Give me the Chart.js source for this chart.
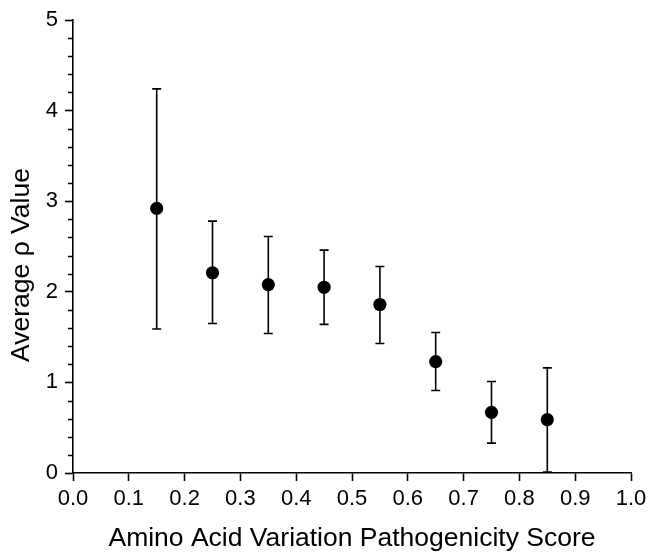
<!DOCTYPE html>
<html>
<head>
<meta charset="utf-8">
<script src="https://cdn.jsdelivr.net/npm/chart.js@4/dist/chart.umd.min.js"></script>
<style>
  html, body { margin: 0; padding: 0; background: #ffffff; }
  #wrap { width: 648px; height: 552px; position: relative; }
</style>
</head>
<body>
<div id="wrap"><canvas id="c" width="648" height="552"></canvas></div>
<script>
// ---- data ----
const scoreBins   = [0.15, 0.25, 0.35, 0.45, 0.55, 0.65, 0.75, 0.85];
const meanRho     = [2.92, 2.21, 2.08, 2.05, 1.86, 1.23, 0.67, 0.59];
const upperRho    = [4.24, 2.78, 2.61, 2.46, 2.28, 1.55, 1.01, 1.16];
const lowerRho    = [1.59, 1.65, 1.54, 1.64, 1.43, 0.91, 0.33, 0.01];
const xTickValues = [0.0, 0.1, 0.2, 0.3, 0.4, 0.5, 0.6, 0.7, 0.8, 0.9, 1.0];
const xTickLabels = ['0.0', '0.1', '0.2', '0.3', '0.4', '0.5', '0.6', '0.7', '0.8', '0.9', '1.0'];
const yTickValues = [0, 1, 2, 3, 4, 5];
const yMinorTickValues = [0.2, 0.4, 0.6, 0.8, 1.2, 1.4, 1.6, 1.8, 2.2, 2.4, 2.6, 2.8,
                          3.2, 3.4, 3.6, 3.8, 4.2, 4.4, 4.6, 4.8];
const xTitle = 'Amino Acid Variation Pathogenicity Score';
const yTitle = 'Average \u03C1 Value';

const FONT = '"Liberation Sans", Arial, Helvetica, sans-serif';
const INK = '#000000';

const points = scoreBins.map((x, i) => ({ x: x, y: meanRho[i] }));

const errorBarPlugin = {
  id: 'errorBars',
  beforeDatasetsDraw(chart) {
    const ctx = chart.ctx;
    const xs = chart.scales.x, ys = chart.scales.y;
    ctx.save();
    ctx.strokeStyle = INK;
    ctx.lineWidth = 1.6;
    const cap = 4.5;
    scoreBins.forEach((x, i) => {
      const px = xs.getPixelForValue(x);
      const pTop = ys.getPixelForValue(upperRho[i]);
      const pBot = ys.getPixelForValue(lowerRho[i]);
      ctx.beginPath();
      ctx.moveTo(px, pTop); ctx.lineTo(px, pBot);
      ctx.moveTo(px - cap, pTop); ctx.lineTo(px + cap, pTop);
      ctx.moveTo(px - cap, pBot); ctx.lineTo(px + cap, pBot);
      ctx.stroke();
    });
    ctx.restore();
  }
};

const minorTickPlugin = {
  id: 'minorTicks',
  afterDraw(chart) {
    const ctx = chart.ctx;
    const ys = chart.scales.y;
    const left = chart.chartArea.left;
    ctx.save();
    ctx.strokeStyle = INK;
    ctx.lineWidth = 1.5;
    ctx.beginPath();
    yMinorTickValues.forEach(v => {
      const py = Math.round(ys.getPixelForValue(v)) + 0.5;
      ctx.moveTo(left - 5, py); ctx.lineTo(left, py);
    });
    ctx.stroke();
    ctx.restore();
  }
};

const yTitlePlugin = {
  id: 'yTitle',
  afterDraw(chart) {
    const ctx = chart.ctx;
    ctx.save();
    ctx.fillStyle = INK;
    ctx.font = '26.5px ' + FONT;
    ctx.textAlign = 'center';
    ctx.textBaseline = 'middle';
    ctx.translate(22, 265);
    ctx.rotate(-Math.PI / 2);
    ctx.fillText(yTitle, 0, 0);
    ctx.restore();
  }
};

new Chart(document.getElementById('c'), {
  type: 'scatter',
  data: {
    datasets: [{
      label: 'Average rho',
      data: points,
      backgroundColor: INK,
      borderColor: INK,
      pointRadius: 6.6,
      pointHoverRadius: 6.6,
      pointBorderWidth: 0,
      showLine: false
    }]
  },
  options: {
    responsive: false,
    animation: false,
    devicePixelRatio: 1,
    layout: { padding: { left: 0, right: 17, top: 20, bottom: 0 } },
    plugins: {
      legend: { display: false },
      tooltip: { enabled: false }
    },
    scales: {
      x: {
        type: 'linear',
        min: 0, max: 1,
        afterBuildTicks(scale) { scale.ticks = xTickValues.map(v => ({ value: v })); },
        afterFit(scale) { scale.height = 79; scale.paddingLeft = 0; scale.paddingRight = 0; },
        border: { display: true, color: INK, width: 1.6 },
        grid: { display: true, drawOnChartArea: false, drawTicks: true, tickLength: 8, tickColor: INK, tickWidth: 1.6, color: INK },
        ticks: {
          color: INK,
          font: { family: FONT, size: 22 },
          padding: 5,
          maxRotation: 0,
          autoSkip: false,
          callback: (v, i) => xTickLabels[i]
        },
        title: {
          display: true,
          text: xTitle,
          color: INK,
          font: { family: FONT, size: 26.5, lineHeight: 1 },
          padding: { top: 0, bottom: 0 }
        }
      },
      y: {
        type: 'linear',
        min: 0, max: 5,
        afterBuildTicks(scale) { scale.ticks = yTickValues.map(v => ({ value: v })); },
        afterFit(scale) { scale.width = 73; scale.paddingTop = 0; scale.paddingBottom = 0; },
        border: { display: true, color: INK, width: 1.6 },
        grid: { display: true, drawOnChartArea: false, drawTicks: true, tickLength: 8, tickColor: INK, tickWidth: 1.6, color: INK },
        ticks: {
          color: INK,
          font: { family: FONT, size: 22 },
          padding: 7,
          autoSkip: false,
          callback: v => String(v)
        },
        title: { display: false }
      }
    }
  },
  plugins: [errorBarPlugin, minorTickPlugin, yTitlePlugin]
});
</script>
</body>
</html>
